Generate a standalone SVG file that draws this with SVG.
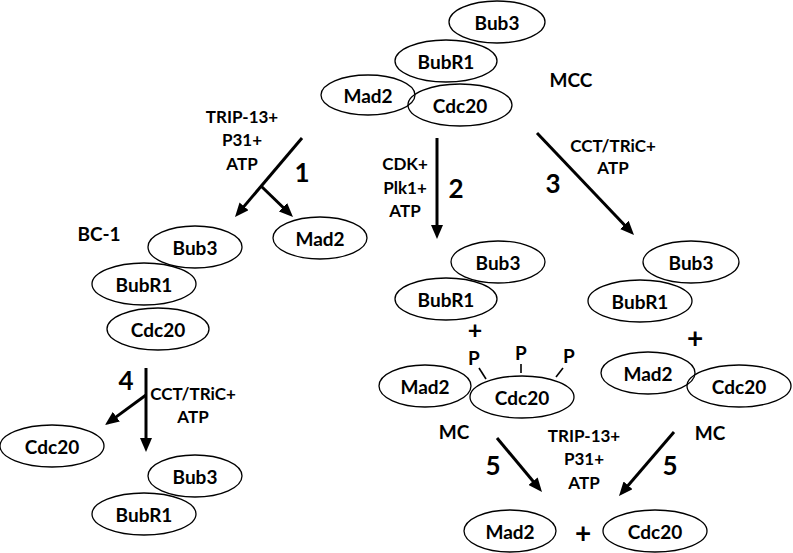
<svg xmlns="http://www.w3.org/2000/svg" width="793" height="553" viewBox="0 0 793 553">
<defs>
<style>
.n ellipse{fill:none;stroke:#000;stroke-width:1.3}
text{font-family:Lato,"Liberation Sans",sans-serif;font-weight:bold;fill:#000;text-anchor:middle;dominant-baseline:central}
.n text{font-size:19px}
.big{font-size:25px}
.num{font-size:26px}
.lab{font-size:17px}
.plus{font-size:28px}
.p{font-size:16px}
.c line{stroke:#000;stroke-width:3}
.tick{stroke:#000;stroke-width:1.6}
</style>
<marker id="ah" markerUnits="userSpaceOnUse" markerWidth="14" markerHeight="12" refX="4" refY="6" orient="auto">
<path d="M0,0 L14,6 L0,12 z" fill="#000"/>
</marker>
</defs>
<rect width="793" height="553" fill="#fff"/>

<g id="mcc" class="n">
<ellipse cx="497" cy="22" rx="48" ry="21"/><text x="497" y="22">Bub3</text>
<ellipse cx="446" cy="61" rx="51" ry="21"/><text x="446" y="61">BubR1</text>
<ellipse cx="368" cy="95" rx="47" ry="20"/><text x="368" y="95">Mad2</text>
<ellipse cx="460" cy="105" rx="52" ry="21"/><text x="460" y="105">Cdc20</text>
<text class="big" x="571" y="79">MCC</text>
</g>

<g id="mad2-r1" class="n">
<ellipse cx="320" cy="238" rx="47" ry="21"/><text x="320" y="238">Mad2</text>
</g>

<g id="bc1" class="n">
<text class="big" x="99" y="233">BC-1</text>
<ellipse cx="195" cy="247" rx="47" ry="21"/><text x="195" y="247">Bub3</text>
<ellipse cx="144" cy="284" rx="52" ry="21"/><text x="144" y="284">BubR1</text>
<ellipse cx="158" cy="329" rx="51" ry="21"/><text x="158" y="329">Cdc20</text>
</g>

<g id="cdc20-r4" class="n">
<ellipse cx="52" cy="446" rx="52" ry="21"/><text x="52" y="446">Cdc20</text>
</g>

<g id="bub-r4" class="n">
<ellipse cx="195" cy="476" rx="47" ry="21"/><text x="195" y="476">Bub3</text>
<ellipse cx="144" cy="514" rx="52" ry="21"/><text x="144" y="514">BubR1</text>
</g>

<g id="bub-r2" class="n">
<ellipse cx="498" cy="262" rx="47" ry="21"/><text x="498" y="262">Bub3</text>
<ellipse cx="446" cy="299" rx="51" ry="21"/><text x="446" y="299">BubR1</text>
</g>

<g id="mc-p" class="n">
<ellipse cx="425" cy="386" rx="46" ry="21"/><text x="425" y="386">Mad2</text>
<ellipse cx="522" cy="397" rx="52" ry="21"/><text x="522" y="397">Cdc20</text>
<text class="p" x="474" y="357">P</text>
<text class="p" x="521" y="352">P</text>
<text class="p" x="569" y="355">P</text>
<line class="tick" x1="479" y1="368" x2="486" y2="379"/>
<line class="tick" x1="521" y1="364" x2="521" y2="373"/>
<line class="tick" x1="563" y1="368" x2="556" y2="377"/>
<text class="big" x="454" y="431">MC</text>
</g>

<g id="bub-r3" class="n">
<ellipse cx="691" cy="262" rx="48" ry="21"/><text x="691" y="262">Bub3</text>
<ellipse cx="640" cy="301" rx="52" ry="21"/><text x="640" y="301">BubR1</text>
</g>

<g id="mc" class="n">
<ellipse cx="648" cy="373" rx="47" ry="21"/><text x="648" y="373">Mad2</text>
<ellipse cx="739" cy="386" rx="52" ry="21"/><text x="739" y="386">Cdc20</text>
<text class="big" x="710" y="432">MC</text>
</g>

<g id="mad2-final" class="n">
<ellipse cx="510" cy="531" rx="46" ry="21"/><text x="510" y="531">Mad2</text>
</g>
<g id="cdc20-final" class="n">
<ellipse cx="655" cy="531" rx="52" ry="21"/><text x="655" y="531">Cdc20</text>
</g>

<g id="plus-signs">
<text class="plus" x="475" y="329" style="font-size:25px">+</text>
<text class="plus" x="695" y="337">+</text>
<text class="plus" x="583" y="532">+</text>
</g>

<g id="connectors" class="c">
<line x1="302" y1="138" x2="241.5" y2="209.4" marker-end="url(#ah)"/>
<line x1="261" y1="186" x2="285.8" y2="210" marker-end="url(#ah)"/>
<line x1="437" y1="138" x2="437" y2="229" marker-end="url(#ah)"/>
<line x1="537" y1="133" x2="627.1" y2="227.8" marker-end="url(#ah)"/>
<line x1="146" y1="368" x2="146" y2="442" marker-end="url(#ah)"/>
<line x1="146" y1="395" x2="113.1" y2="419.1" marker-end="url(#ah)"/>
<line x1="497" y1="438" x2="535.6" y2="484.3" marker-end="url(#ah)"/>
<line x1="674" y1="432" x2="625.5" y2="488.4" marker-end="url(#ah)"/>
</g>

<g id="labels">
<text class="lab" x="242" y="116">TRIP-13+</text>
<text class="lab" x="242" y="139">P31+</text>
<text class="lab" x="242" y="163">ATP</text>
<text class="num" x="302" y="172">1</text>
<text class="lab" x="405" y="163">CDK+</text>
<text class="lab" x="405" y="187">Plk1+</text>
<text class="lab" x="405" y="210">ATP</text>
<text class="num" x="456" y="188">2</text>
<text class="lab" x="613" y="145">CCT/TRiC+</text>
<text class="lab" x="613" y="167">ATP</text>
<text class="num" x="553" y="183">3</text>
<text class="num" x="126" y="380">4</text>
<text class="lab" x="193" y="393">CCT/TRiC+</text>
<text class="lab" x="193" y="416">ATP</text>
<text class="lab" x="584" y="435">TRIP-13+</text>
<text class="lab" x="584" y="458">P31+</text>
<text class="lab" x="584" y="482">ATP</text>
<text class="num" x="493" y="465">5</text>
<text class="num" x="670" y="465">5</text>
</g>
</svg>
